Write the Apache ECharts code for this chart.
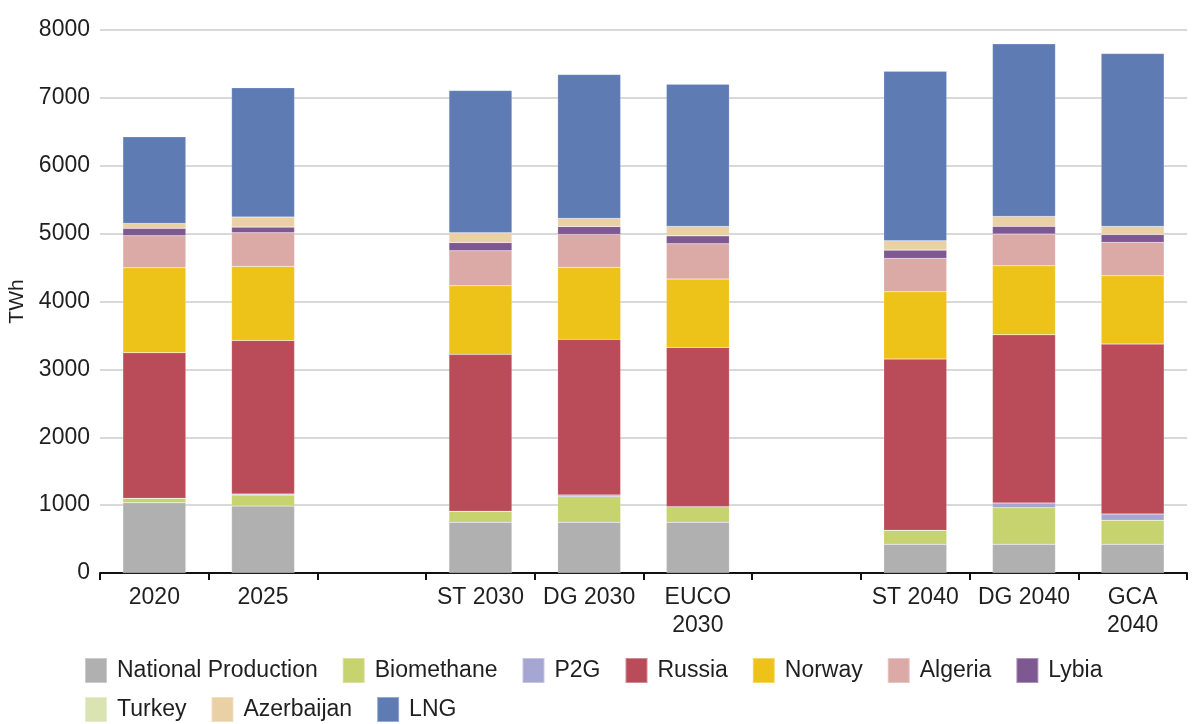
<!DOCTYPE html>
<html>
<head>
<meta charset="utf-8">
<script src="https://cdn.jsdelivr.net/npm/echarts@6/dist/echarts.min.js"></script>
<style>
  html, body { margin: 0; padding: 0; background: #fff; }
  #chart { width: 1192px; height: 724px; }
</style>
</head>
<body>
<div id="chart"></div>
<script>
// categories (empty strings are the gaps between scenario groups)
const categories = ['2020', '2025', '', 'ST 2030', 'DG 2030', 'EUCO\n2030', '', 'ST 2040', 'DG 2040', 'GCA\n2040']

// supply by source, TWh
const nationalProduction = [1035, 987, '-', 747, 747, 747, '-', 423, 423, 423]
const biomethane = [65, 162, '-', 162, 377, 230, '-', 206, 539, 353]
const p2g = [0, 15, '-', 0, 25, 0, '-', 0, 69, 93]
const russia = [2145, 2263, '-', 2312, 2293, 2347, '-', 2523, 2479, 2504]
const norway = [1252, 1090, '-', 1011, 1060, 1006, '-', 991, 1016, 1006]
const algeria = [471, 496, '-', 515, 486, 520, '-', 491, 467, 491]
const lybia = [113, 84, '-', 123, 118, 118, '-', 123, 117, 118]
const turkey = [0, 0, '-', 0, 0, 0, '-', 0, 0, 0]
const azerbaijan = [69, 147, '-', 142, 118, 138, '-', 137, 143, 118]
const lng = [1276, 1905, '-', 2097, 2120, 2096, '-', 2499, 2543, 2548]

const yTicks = [0, 1000, 2000, 3000, 4000, 5000, 6000, 7000, 8000]

const seriesDefs = [
  ['National Production', nationalProduction, '#b0b0b0'],
  ['Biomethane', biomethane, '#c6d36f'],
  ['P2G', p2g, '#a6a6d3'],
  ['Russia', russia, '#b94c58'],
  ['Norway', norway, '#edc219'],
  ['Algeria', algeria, '#dba9a6'],
  ['Lybia', lybia, '#7e5991'],
  ['Turkey', turkey, '#d9e4b2'],
  ['Azerbaijan', azerbaijan, '#e9d0a5'],
  ['LNG', lng, '#5e7cb3']
]

const fontFamily = '"Liberation Sans", Arial, sans-serif'
const textColor = '#1f1f1f'

const legendCommon = {
  left: 84,
  orient: 'horizontal',
  icon: 'rect',
  itemWidth: 22,
  itemHeight: 25,
  itemGap: 24,
  padding: 0,
  textStyle: { fontFamily: fontFamily, fontSize: 23, lineHeight: 25, color: textColor, padding: [0, 0, 0, 5] }
}

const chart = echarts.init(document.getElementById('chart'))
chart.setOption({
  animation: false,
  color: seriesDefs.map(d => d[2]),
  grid: { left: 100, right: 5, top: 30, bottom: 151, containLabel: false, outerBoundsMode: 'none' },
  legend: [
    Object.assign({}, legendCommon, { top: 657, data: seriesDefs.slice(0, 7).map(d => d[0]) }),
    Object.assign({}, legendCommon, { top: 696, data: seriesDefs.slice(7).map(d => d[0]) })
  ],
  xAxis: {
    type: 'category',
    data: categories,
    axisLine: { lineStyle: { color: '#111', width: 2 } },
    axisTick: { show: true, length: 7, lineStyle: { color: '#111', width: 2 } },
    axisLabel: {
      interval: 0,
      margin: 11,
      fontFamily: fontFamily,
      fontSize: 23,
      lineHeight: 28,
      color: textColor
    }
  },
  yAxis: {
    type: 'value',
    min: yTicks[0],
    max: yTicks[yTicks.length - 1],
    interval: 1000,
    name: 'TWh',
    nameLocation: 'middle',
    nameGap: 60,
    nameTextStyle: { fontFamily: fontFamily, fontSize: 21, color: textColor },
    axisLine: { show: false },
    axisTick: { show: false },
    axisLabel: {
      margin: 10,
      fontFamily: fontFamily,
      fontSize: 23,
      color: textColor,
      formatter: v => String(v)
    },
    splitLine: { lineStyle: { color: '#d9d9d9', width: 2 } }
  },
  series: seriesDefs.map(d => ({
    name: d[0],
    type: 'bar',
    stack: 'supply',
    barWidth: 63,
    data: d[1],
    itemStyle: { color: d[2], borderColor: 'rgba(255,255,255,0.35)', borderWidth: 0.5 }
  }))
})
</script>
</body>
</html>
